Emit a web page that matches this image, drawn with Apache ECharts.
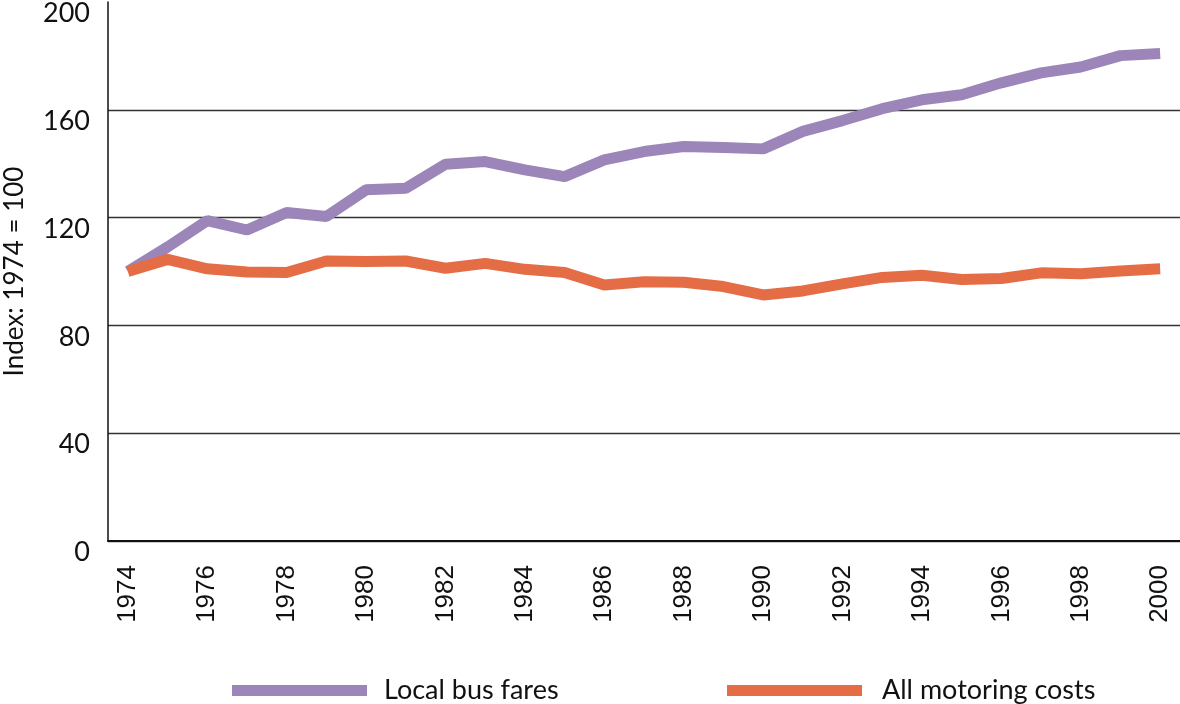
<!DOCTYPE html>
<html>
<head>
<meta charset="utf-8">
<script src="https://cdn.jsdelivr.net/npm/echarts@6/dist/echarts.min.js"></script>
<style>
  html, body { margin: 0; padding: 0; background: #fff; }
  #main { width: 1180px; height: 704px; }
</style>
</head>
<body>
<div id="main"></div>
<script>
const years = ['1974', '1975', '1976', '1977', '1978', '1979', '1980', '1981', '1982',
  '1983', '1984', '1985', '1986', '1987', '1988', '1989', '1990', '1991', '1992',
  '1993', '1994', '1995', '1996', '1997', '1998', '1999', '2000']
const busFares = [100, 109.1, 118.9, 115.4, 121.9, 120.4, 130.3, 130.9, 139.8,
  140.8, 137.7, 135.2, 141.4, 144.5, 146.4, 146.0, 145.5, 152, 156,
  160.4, 163.7, 165.6, 170, 173.7, 175.9, 180.1, 180.9]
const motoringCosts = [100, 104.5, 101, 99.8, 99.6, 103.9, 103.7, 103.9, 101.2,
  103, 100.8, 99.6, 95, 96.2, 96, 94.4, 91.3, 92.8, 95.4,
  97.8, 98.6, 97, 97.4, 99.5, 99.2, 100.2, 101]

const purple = '#9b85b9'
const orange = '#e46d46'

let chart = echarts.init(document.getElementById('main'))
chart.setOption({
  animation: false,
  grid: { left: 108, top: 2, right: 0, bottom: 163, outerBoundsMode: 'none' },
  legend: [
    {
      left: 227, top: 672,
      data: ['Local bus fares'],
      icon: 'rect', itemWidth: 135, itemHeight: 11,
      textStyle: { fontFamily: 'Lato', fontSize: 27, color: '#111', padding: [0, 0, 0, 12] },
    },
    {
      left: 722, top: 672,
      data: ['All motoring costs'],
      icon: 'rect', itemWidth: 135, itemHeight: 11,
      textStyle: { fontFamily: 'Lato', fontSize: 27, color: '#111', padding: [0, 0, 0, 15] },
    },
  ],
  xAxis: {
    type: 'category',
    data: years,
    boundaryGap: true,
    axisLine: { lineStyle: { color: '#111', width: 2 } },
    axisTick: { inside: true, length: 13, alignWithLabel: true, interval: 0, lineStyle: { color: '#111', width: 1.5 } },
    axisLabel: {
      interval: 1, rotate: 90, margin: 24,
      fontFamily: 'Liberation Sans', fontSize: 26, color: '#111',
    },
    splitLine: { show: false },
  },
  yAxis: {
    type: 'value',
    min: 0, max: 200, interval: 40,
    name: 'Index: 1974 = 100',
    nameLocation: 'middle',
    nameGap: 80,
    nameTextStyle: { fontFamily: 'Lato', fontSize: 26, color: '#111' },
    axisLine: { show: true, lineStyle: { color: '#111', width: 1.5 } },
    axisTick: { show: false },
    axisLabel: {
      margin: 18, verticalAlign: 'top', padding: [-2, 0, 0, 0],
      fontFamily: 'Lato', fontSize: 27, color: '#111',
    },
    splitLine: {
      lineStyle: { color: ['#333', '#333', '#333', '#333', '#333', 'rgba(0,0,0,0)'], width: 1.3 },
    },
  },
  series: [
    {
      name: 'Local bus fares',
      type: 'line',
      data: busFares,
      showSymbol: false,
      symbol: 'none',
      color: purple,
      lineStyle: { width: 11, color: purple },
    },
    {
      name: 'All motoring costs',
      type: 'line',
      data: motoringCosts,
      showSymbol: false,
      symbol: 'none',
      color: orange,
      lineStyle: { width: 11, color: orange },
    },
  ],
})
</script>
</body>
</html>
